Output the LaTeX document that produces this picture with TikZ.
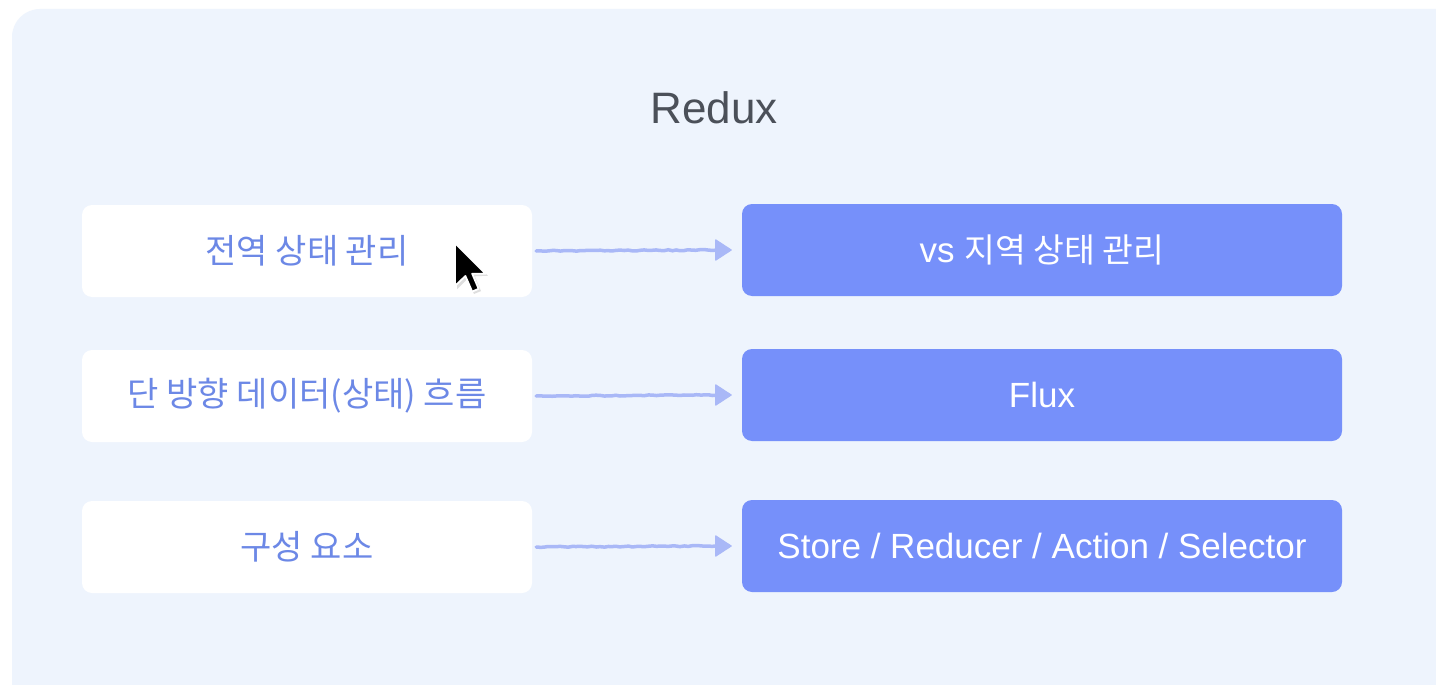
\documentclass[tikz,border=0pt]{standalone}
\usepackage{fontspec}
\setmainfont{Liberation Sans}
\newfontfamily\kr{Noto Sans CJK KR}
\usetikzlibrary{arrows.meta,decorations.pathmorphing}
\definecolor{panelbg}{HTML}{EEF4FD}
\definecolor{rightbox}{HTML}{7690FA}
\definecolor{lefttext}{HTML}{6C88E6}
\definecolor{titletext}{HTML}{4B5059}
\definecolor{arrowcol}{HTML}{A9B8F7}
\tikzset{
  leftbox/.style={fill=white, rounded corners=10pt, minimum width=450pt, minimum height=92pt,
    inner sep=0pt, text=lefttext, font=\kr\fontsize{34}{40}\selectfont},
  rbox/.style={fill=rightbox, rounded corners=10pt, minimum width=600pt, minimum height=92pt,
    inner sep=0pt, text=white, font=\fontsize{35}{40}\selectfont},
  arrowline/.style={draw=arrowcol, line width=3.5pt, line cap=round,
    decorate, decoration={random steps, segment length=4pt, amplitude=0.5pt}},
  arrowhead/.style={draw=arrowcol, line width=1pt, -{Triangle[length=17pt,width=22pt,fill=arrowcol,round]}},
}
\begin{document}
\begin{tikzpicture}[x=1pt,y=-1pt]
\pgfmathsetseed{7}
\useasboundingbox (0,0) rectangle (1436,685);
\clip (0,0) rectangle (1436,685);
\fill[white] (0,0) rectangle (1436,685);
\fill[panelbg, rounded corners=28pt] (12,9) rectangle (1500,760);
\node[text=titletext, font=\fontsize{44}{52}\selectfont] (title) at (714,108) {Redux};

\node[leftbox] (l1) at (307,251) {전역 상태 관리};
\node[leftbox] (l2) at (307,396) {단 방향 데이터(상태) 흐름};
\node[leftbox] (l3) at (307,547) {구성 요소};

\node[rbox] (r1) at (1042,250) {vs {\kr\fontsize{33.5}{40}\selectfont 지역 상태 관리}};
\node[rbox] (r2) at (1042,395) {Flux};
\node[rbox] (r3) at (1042,546) {Store / Reducer / Action / Selector};

\foreach \i in {1,2,3}{
  \draw[arrowline] ([xshift=4pt]l\i.east) -- ([xshift=-24pt]r\i.west);
  \draw[arrowhead] ([xshift=-26pt]r\i.west) -- ([xshift=-10pt]r\i.west);
}

% mouse cursor
\begin{scope}[shift={(455,243)}, scale=2.6]
  \fill[black!25, opacity=0.5] (0.8,0.8) -- (0.8,17.8) -- (4.8,13.8) -- (7.3,19.6) -- (10,18.5) -- (7.6,12.8) -- (12.6,12.6) -- cycle;
  \draw[white, line width=1.8pt, line join=round, fill=black]
    (0,0) -- (0,16.5) -- (4,12.7) -- (6.6,18.7) -- (9.1,17.6) -- (6.6,11.8) -- (11.8,11.8) -- cycle;
\end{scope}
\end{tikzpicture}
\end{document}
